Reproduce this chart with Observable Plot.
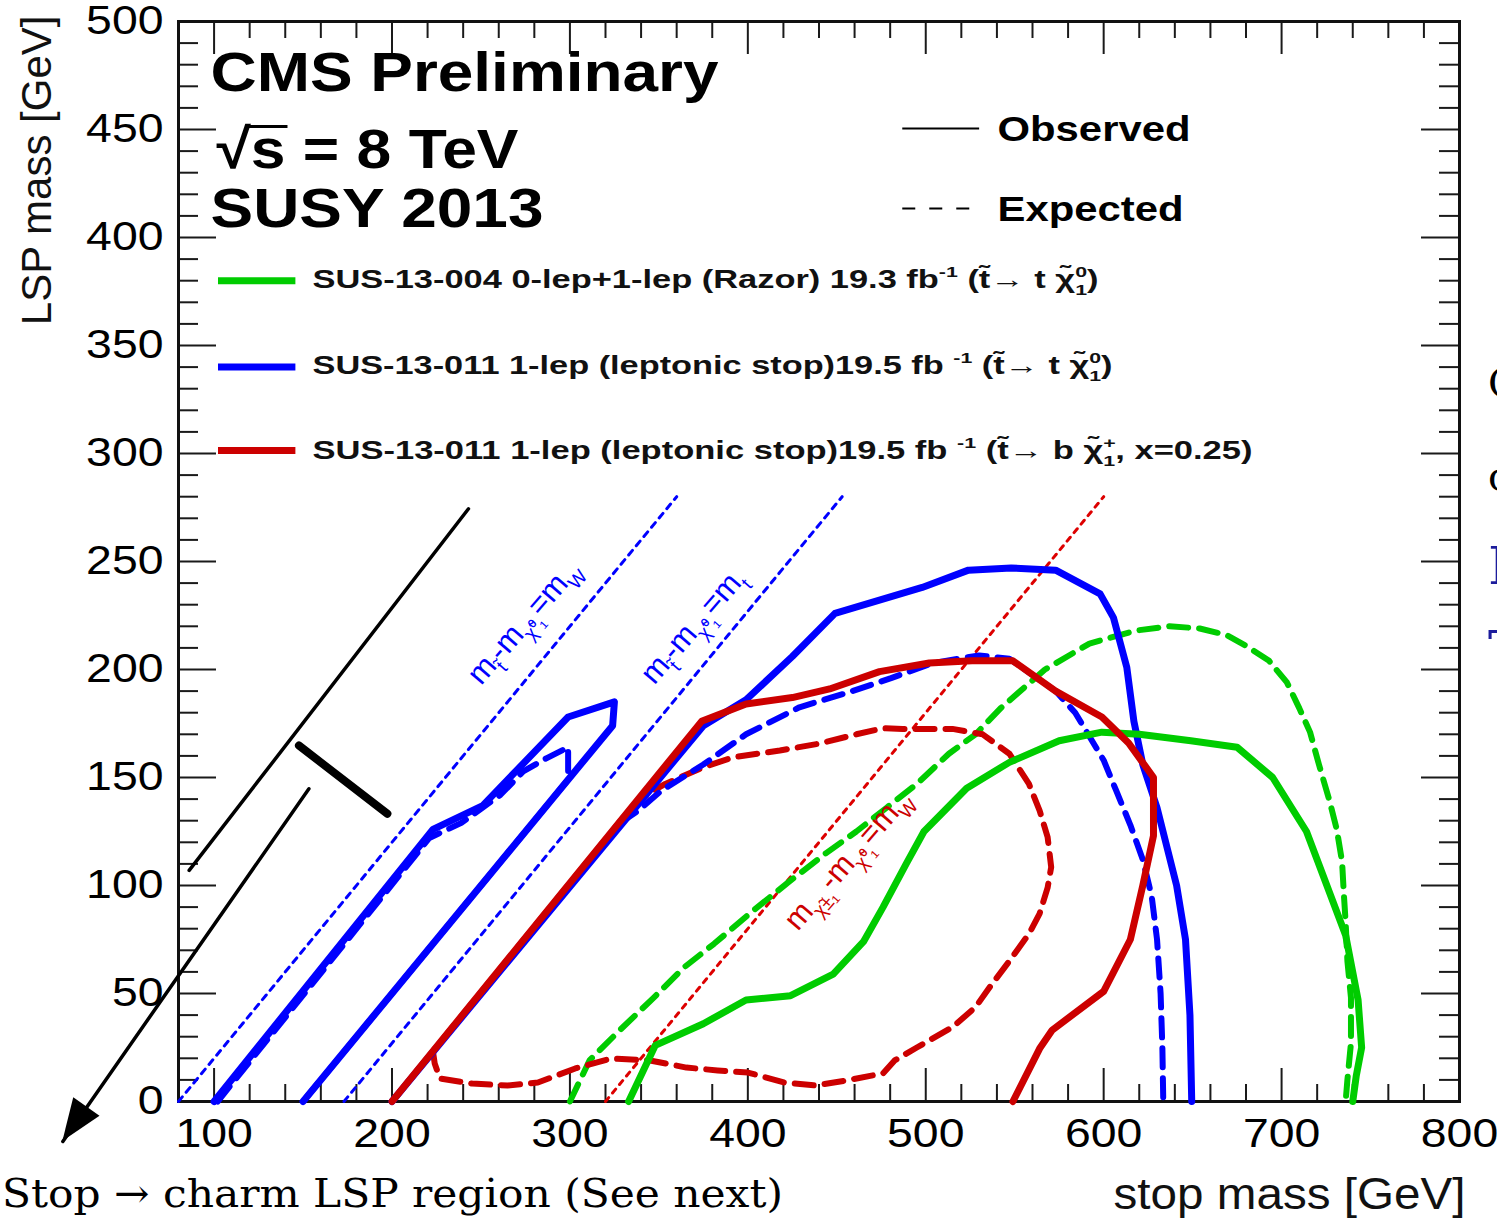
<!DOCTYPE html>
<html>
<head>
<meta charset="utf-8">
<script src="https://cdn.jsdelivr.net/npm/d3@7"></script>
<script src="https://cdn.jsdelivr.net/npm/@observablehq/plot@0.6"></script>
<style>
  html, body { margin: 0; padding: 0; background: #fff; }
  body { width: 1497px; height: 1218px; overflow: hidden; position: relative; font-family: "Liberation Sans", Arial, sans-serif; }
  #chart { position: absolute; left: 0; top: 0; }
  #caption { position: absolute; left: 2px; top: 1173px; font-family: "DejaVu Serif", serif; font-size: 40px; line-height: 40px; white-space: nowrap; transform-origin: left top; color: #000; }
  #side { position: absolute; left: 1486px; top: 0; width: 11px; height: 1218px; overflow: hidden; font-family: "DejaVu Serif", serif; }
  #side span { position: absolute; left: 2px; white-space: nowrap; line-height: 1; }
</style>
</head>
<body>
<div id="chart"></div>
<div id="caption">Stop → charm LSP region (See next)</div>
<div id="side">
  <span style="top:363px;font-size:40px;color:#000">C</span>
  <span style="top:456px;font-size:40px;color:#000">c</span>
  <span style="top:540px;font-size:52px;color:#1c1c9c">I</span>
  <span style="top:624px;font-size:52px;color:#1c1c9c">T</span>
</div>
<script>
// ---------------- data (stop mass [GeV], LSP mass [GeV]) ----------------
const xTickValues = [100, 200, 300, 400, 500, 600, 700, 800];
const yTickValues = [0, 50, 100, 150, 200, 250, 300, 350, 400, 450, 500];

// SUS-13-004 Razor (green)
const razorObserved = [[333,0],[348,26],[375,36],[399,47],[424,49],[448,59],[465,74],[476,90],[489,110],[499,125],[523,145],[547,157],[575,167],[599,171],[620,170],[649,167],[675,164],[695,150],[714,125],[736,77],[743,47],[745,25],[742,12],[740,0]];
const razorExpected = [[300,0],[311,19],[328,33],[347,48],[364,62],[381,73],[401,87],[422,101],[444,115],[461,125],[478,136],[495,147],[513,161],[528,170],[542,182],[567,200],[592,212],[618,218],[637,220],[654,219],[669,216],[680,211],[693,204],[703,194],[710,182],[716,171],[721,156],[727,139],[731,126],[734,111],[735,96],[736,83],[737,65],[739,48],[739,27],[737,10],[736,0]];

// SUS-13-011 t -> t chi0 (blue)
const topObservedLeft = [[100,0],[223,126],[251,137],[299,178],[325,185],[324,174],[150,0]];
const topExpectedLeft = [[102,0],[221,122],[239,129],[261,142],[274,153],[287,159],[299,164],[299,149],[150,0]];
const topObservedMain = [[200,0],[375,174],[399,186],[425,206],[449,226],[498,238],[524,246],[548,247],[573,246],[598,235],[605.5,224],[613,201],[617,176],[622,156],[630,136],[641,100],[646,75],[648.5,40],[649.5,0]];
const topExpectedMain = [[200,0],[330,130],[339,135],[351.5,144],[375,156],[399,170],[429,182.5],[455,189],[480.5,196],[504,203],[530,206.5],[547,205],[573,190],[584,180],[600,158],[607,144],[615,128],[622,112],[627,95],[630,75],[632,50],[633,25],[633.5,0]];

// SUS-13-011 t -> b chi+ x=0.25 (red)
const bottomObserved = [[200,0],[374,176],[399,184],[425,187],[446,191],[474,199],[502,203],[526,204],[549,204],[573,190],[599,178],[614,166],[628,150],[628,123],[622,100],[615,75],[600,51],[571,33],[564,24.5],[549,0]];
const bottomExpected = [[223,23.3],[224,17.6],[227,10.6],[245,8.3],[265,7.4],[282,8.8],[303,15.3],[323,19.9],[345,19],[365.5,15.7],[383,14.4],[400,13.4],[420.5,8.8],[438,7.4],[455,9.7],[476,13],[482.5,19],[495,25],[515,34.4],[528,43.7],[536,53],[547,65],[558,77.6],[564,87],[568.5,99],[570.5,108.5],[568.5,122.4],[564,134.7],[558,147],[547,161],[532,170],[515,172.5],[487,172.5],[476,172.8],[461,170],[439.5,165.6],[418,162.5],[392,159.4],[375,154.8],[353.6,147],[345,143],[336,137],[330,131.5],[223,23.3]];

// kinematic boundary lines
const lineMW = [[80,0],[360,280]];
const lineMt = [[173,0],[453,280]];
const lineCharginoMW = [[320,0],[600,280]];

const boundaryLabels = [
  {text: "m_{t̃}-m_{χ̃⁰₁}=m_{W}", m: 274, L: 222, color: "#0000ff"},
  {text: "m_{t̃}-m_{χ̃⁰₁}=m_{t}", m: 369, L: 220, color: "#0000ff"},
  {text: "m_{χ̃±₁}-m_{χ̃⁰₁}=m_{W}", m: 456, L: 112, color: "#cc0000"}
];

// legend
const legendRows = [
  {label: "SUS-13-004 0-lep+1-lep (Razor) 19.3 fb^{-1} (t̃→ t χ̃^{0}_{1})", color: "#00cc00", L: 380, width: 786, dy: 266},
  {label: "SUS-13-011 1-lep (leptonic stop)19.5 fb ^{-1} (t̃→ t χ̃^{0}_{1})", color: "#0000ff", L: 340, width: 800, dy: 352},
  {label: "SUS-13-011 1-lep (leptonic stop)19.5 fb ^{-1} (t̃→ b χ̃^{+}_{1}, x=0.25)", color: "#cc0000", L: 301.4, width: 940, dy: 437}
];
const observedRow = {label: "Observed", L: 450.5, m1: 486.8, m2: 530, dy: 119, width: 193};
const expectedRow = {label: "Expected", L: 413.4, m1: 486.8, m2: 528, dy: 199, width: 186};
const styleRows = [observedRow, expectedRow];
const headers = [
  {text: "CMS Preliminary", dx: 32, dy: 69, width: 508},
  {text: "√s = 8 TeV", dx: 38, dy: 146, width: 302},
  {text: "SUSY 2013", dx: 32, dy: 205, width: 333}
];

// slide annotations (black)
const annoLine = [[86,107],[243,274.4]];
const annoBar = [[147.7,164.8],[197.4,133.2]];
const annoArrow = [[153.3,144.8],[15,-18.5]];

// ---------------- layout ----------------
const W = 1497, H = 1218, mL = 178, mR = 38, mT = 21, mB = 117;
const innerW = W - mL - mR, innerH = H - mT - mB;
const X = d => d[0], Y = d => d[1];
const xMinor = d3.range(80, 801, 20).filter(v => v % 100 !== 0);
const yMinor = d3.range(0, 501, 10).filter(v => v % 50 !== 0);
const tickColor = "#1a1a1a";

const BLUE = "#0000ff", RED = "#cc0000", GREEN = "#00cc00";
const dashed = "19,11";

const plot = Plot.plot({
  width: W, height: H,
  marginLeft: mL, marginRight: mR, marginTop: mT, marginBottom: mB,
  style: {fontFamily: '"Liberation Sans", Arial, Helvetica, sans-serif', fontSize: "40px", color: "#000", background: "#fff", overflow: "visible"},
  x: {domain: [80, 800], ticks: xTickValues, tickSize: 0, tickPadding: 17, label: null, tickFormat: d => String(d)},
  y: {domain: [0, 500], ticks: yTickValues, tickSize: 0, tickPadding: 15, label: null, tickFormat: d => String(d)},
  marks: [
    // inward ticks on all four sides
    Plot.ruleX(xTickValues, {x: d => d, insetTop: innerH - 33, stroke: tickColor, strokeWidth: 2}),
    Plot.ruleX(xTickValues, {x: d => d, insetBottom: innerH - 33, stroke: tickColor, strokeWidth: 2}),
    Plot.ruleX(xMinor, {x: d => d, insetTop: innerH - 17, stroke: tickColor, strokeWidth: 2}),
    Plot.ruleX(xMinor, {x: d => d, insetBottom: innerH - 17, stroke: tickColor, strokeWidth: 2}),
    Plot.ruleY(yTickValues, {y: d => d, insetRight: innerW - 38, stroke: tickColor, strokeWidth: 2}),
    Plot.ruleY(yTickValues, {y: d => d, insetLeft: innerW - 38, stroke: tickColor, strokeWidth: 2}),
    Plot.ruleY(yMinor, {y: d => d, insetRight: innerW - 20, stroke: tickColor, strokeWidth: 2}),
    Plot.ruleY(yMinor, {y: d => d, insetLeft: innerW - 20, stroke: tickColor, strokeWidth: 2}),
    Plot.frame({stroke: "#111", strokeWidth: 3}),

    // kinematic lines
    Plot.line(lineMW, {x: X, y: Y, stroke: BLUE, strokeWidth: 3, strokeDasharray: "6,6"}),
    Plot.line(lineMt, {x: X, y: Y, stroke: BLUE, strokeWidth: 3, strokeDasharray: "6,6"}),
    Plot.line(lineCharginoMW, {x: X, y: Y, stroke: "#dd0000", strokeWidth: 3, strokeDasharray: "5,6"}),

    // expected contours
    Plot.line(razorExpected, {x: X, y: Y, stroke: GREEN, strokeWidth: 6, strokeDasharray: dashed}),
    Plot.line(bottomExpected, {x: X, y: Y, stroke: RED, strokeWidth: 6, strokeDasharray: dashed}),
    Plot.line(topExpectedLeft, {x: X, y: Y, stroke: BLUE, strokeWidth: 6, strokeDasharray: dashed}),
    Plot.line(topExpectedMain, {x: X, y: Y, stroke: BLUE, strokeWidth: 6, strokeDasharray: dashed}),

    // observed contours
    Plot.line(topObservedLeft, {x: X, y: Y, stroke: BLUE, strokeWidth: 7, strokeLinejoin: "round"}),
    Plot.line(topObservedMain, {x: X, y: Y, stroke: BLUE, strokeWidth: 7, strokeLinejoin: "round"}),
    Plot.line(razorObserved, {x: X, y: Y, stroke: GREEN, strokeWidth: 7, strokeLinejoin: "round"}),
    Plot.line(bottomObserved, {x: X, y: Y, stroke: RED, strokeWidth: 7, strokeLinejoin: "round"}),

    // boundary labels
    Plot.text(boundaryLabels, {x: "m", y: "L", text: "text", fill: "color", rotate: -49, fontSize: 31, textAnchor: "middle", lineAnchor: "middle"}),

    // header
    Plot.text(headers, {text: "text", frameAnchor: "top-left", fontSize: 56, fontWeight: "bold", textAnchor: "start", lineAnchor: "bottom", fill: "#000"}),

    // observed / expected legend
    Plot.link([observedRow], {x1: "m1", x2: "m2", y1: "L", y2: "L", stroke: "#000", strokeWidth: 2}),
    Plot.link([expectedRow], {x1: "m1", x2: "m2", y1: "L", y2: "L", stroke: "#000", strokeWidth: 2, strokeDasharray: "13,14"}),
    Plot.text(styleRows, {text: "label", frameAnchor: "top-left", fontSize: 35, fontWeight: "bold", textAnchor: "start", lineAnchor: "bottom", fill: "#000"}),

    // analysis legend
    Plot.link(legendRows, {x1: () => 102.2, x2: () => 145.7, y1: "L", y2: "L", stroke: "color", strokeWidth: 7}),
    Plot.text(legendRows, {text: "label", frameAnchor: "top-left", fontSize: 25, fontWeight: "bold", textAnchor: "start", lineAnchor: "bottom", fill: "#111"}),

    // axis titles
    Plot.text(["LSP mass [GeV]"], {frameAnchor: "top-left", dx: -128, dy: -6, rotate: -90, textAnchor: "end", lineAnchor: "bottom", fontSize: 42, fill: "#111"}),
    Plot.text(["stop mass [GeV]"], {frameAnchor: "bottom-right", dx: 6, dy: 107, textAnchor: "end", lineAnchor: "bottom", fontSize: 44, fill: "#111"}),

    // slide annotations
    Plot.line(annoLine, {x: X, y: Y, stroke: "#000", strokeWidth: 3.5}),
    Plot.line(annoBar, {x: X, y: Y, stroke: "#000", strokeWidth: 8}),
    Plot.line(annoArrow, {x: X, y: Y, stroke: "#000", strokeWidth: 3.5})
  ]
});

document.getElementById("chart").append(plot);

// ------------- post-processing: per-row text offsets, rich text, stretching -------------
const svgNS = "http://www.w3.org/2000/svg";
const textGroups = Array.from(plot.querySelectorAll("g[aria-label='text']"));

function placeRows(rows, defaultDx) {
  for (const g of textGroups) {
    const ts = Array.from(g.querySelectorAll("text"));
    if (ts.length !== rows.length) continue;
    if (!rows.every((r, i) => ts[i].textContent === (r.text || r.label))) continue;
    ts.forEach((t, i) => {
      const r = rows[i];
      const tx = r.dx !== undefined ? r.dx : defaultDx;
      t.setAttribute("transform", `translate(${mL + tx},${mT + r.dy})`);
      t.removeAttribute("x"); t.removeAttribute("y");
    });
  }
}
placeRows(headers, 32);
placeRows(styleRows, 819);
placeRows(legendRows, 134);

function richify(el) {
  const s = el.textContent;
  if (!/[_^]\{/.test(s)) return;
  const fs = parseFloat(getComputedStyle(el).fontSize);
  el.textContent = "";
  const re = /([_^])\{([^}]*)\}/g;
  let last = 0, cur = 0, m, prevSup = null;
  const add = (str, off, small, dx) => {
    const t = document.createElementNS(svgNS, "tspan");
    t.textContent = str;
    const dy = off - cur;
    if (dy) t.setAttribute("dy", dy);
    cur = off;
    if (small) t.setAttribute("font-size", (fs * 0.62).toFixed(1));
    if (dx) t.setAttribute("dx", dx);
    el.appendChild(t);
    return t;
  };
  while ((m = re.exec(s))) {
    const adjacent = m.index === last;
    if (m.index > last) { add(s.slice(last, m.index), 0, false); prevSup = null; }
    if (m[1] === "^") {
      prevSup = add(m[2], -0.42 * fs, true);
    } else {
      let dx = 0;
      if (prevSup && adjacent) dx = -prevSup.getComputedTextLength();
      add(m[2], 0.3 * fs, true, dx);
      prevSup = null;
    }
    last = re.lastIndex;
  }
  if (last < s.length) add(s.slice(last), 0, false);
}

const widthTargets = new Map();
for (const h of headers) widthTargets.set(h.text, h.width);
for (const r of styleRows) widthTargets.set(r.label, r.width);
for (const r of legendRows) widthTargets.set(r.label, r.width);
widthTargets.set("stop mass [GeV]", 352);

const allTexts = Array.from(plot.querySelectorAll("text"));
for (const t of allTexts) {
  const original = t.textContent;
  richify(t);
  let target = widthTargets.get(original);
  const inAxis = t.closest("[aria-label^='x-axis'],[aria-label^='y-axis']");
  if (target === undefined && inAxis) target = t.getComputedTextLength() * 1.16;
  if (target !== undefined) {
    t.setAttribute("textLength", target.toFixed(1));
    t.setAttribute("lengthAdjust", "spacingAndGlyphs");
  }
  if (original === "√s = 8 TeV") {
    try {
      const e0 = t.getExtentOfChar(0), e1 = t.getExtentOfChar(1);
      const bar = document.createElementNS(svgNS, "line");
      bar.setAttribute("x1", e0.x + e0.width - 2);
      bar.setAttribute("x2", e1.x + e1.width + 2);
      const yb = e0.y + e0.height * 0.16;
      bar.setAttribute("y1", yb); bar.setAttribute("y2", yb);
      bar.setAttribute("stroke", "#000"); bar.setAttribute("stroke-width", 3);
      bar.setAttribute("transform", t.getAttribute("transform") || "");
      t.parentNode.appendChild(bar);
    } catch (e) {}
  }
}

// filled arrow head at the end of the annotation arrow, positioned through the plot scales
(function () {
  const sx = plot.scale("x"), sy = plot.scale("y");
  const [a, b] = annoArrow;
  const x0 = sx.apply(a[0]), y0 = sy.apply(a[1]);
  const x1 = sx.apply(b[0]), y1 = sy.apply(b[1]);
  const len = Math.hypot(x1 - x0, y1 - y0);
  const ux = (x1 - x0) / len, uy = (y1 - y0) / len;
  const headLen = 42, headHalf = 16;
  const bx = x1 - ux * headLen, by = y1 - uy * headLen;
  const pts = [[x1, y1], [bx - uy * headHalf, by + ux * headHalf], [bx + uy * headHalf, by - ux * headHalf]];
  const poly = document.createElementNS(svgNS, "polygon");
  poly.setAttribute("points", pts.map(p => p.join(",")).join(" "));
  poly.setAttribute("fill", "#000");
  plot.appendChild(poly);
})();

// caption width fit
const cap = document.getElementById("caption");
const cw = cap.getBoundingClientRect().width;
cap.style.transform = `scaleX(${(781 / cw).toFixed(4)})`;
</script>
</body>
</html>
